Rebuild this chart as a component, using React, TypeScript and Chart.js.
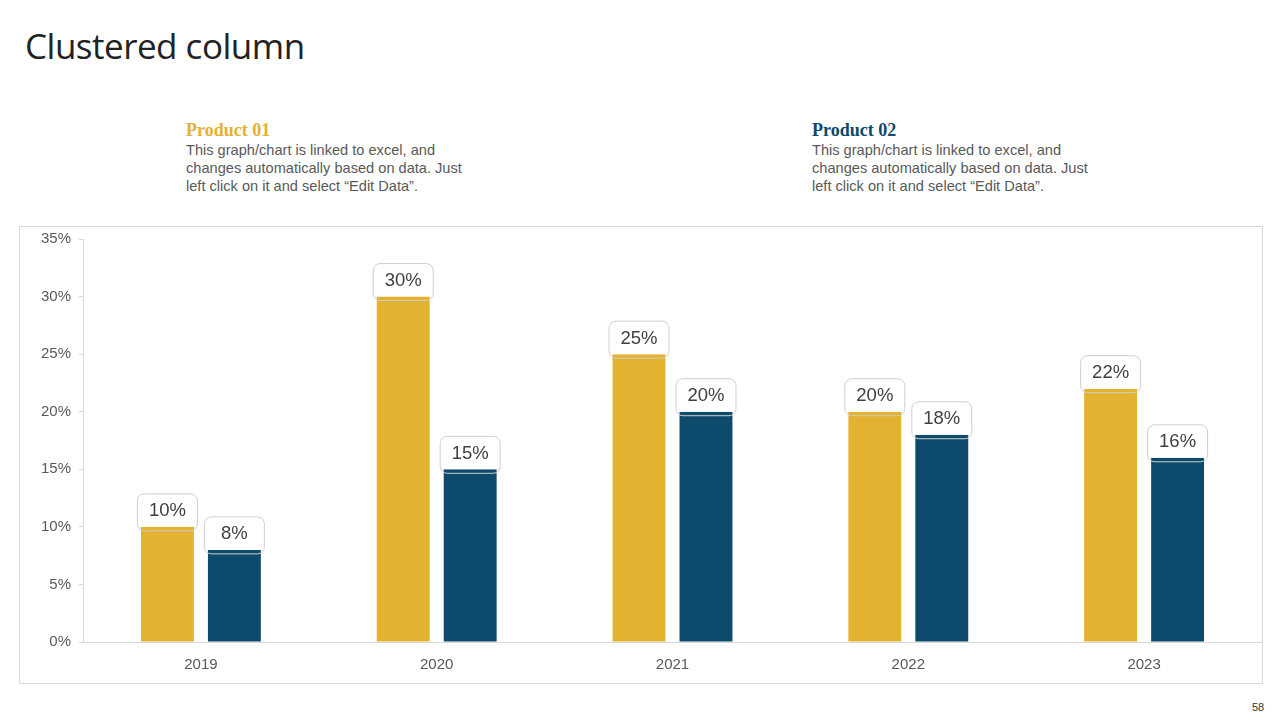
import React, { useEffect, useRef } from "react";
import { Chart, registerables } from "chart.js";

Chart.register(...registerables);

const years = ["2019", "2020", "2021", "2022", "2023"];
const product01 = [10, 30, 25, 20, 22];
const product02 = [8, 15, 20, 18, 16];
const seriesNames = ["Product 01", "Product 02"];
const yTicks = [0, 5, 10, 15, 20, 25, 30, 35];

const YELLOW = "#E3B231";
const BLUE = "#0E4A6B";

const labelPlugin = {
  id: "boxLabels",
  afterDatasetsDraw(chart: any) {
    const ctx = chart.ctx;
    ctx.save();
    chart.data.datasets.forEach((ds: any, di: number) => {
      const meta = chart.getDatasetMeta(di);
      meta.data.forEach((bar: any, i: number) => {
        const w = 60;
        const h = 37;
        const x = bar.x - w / 2;
        const bottom = bar.y + 4;
        const y = bottom - h;
        ctx.save();
        ctx.beginPath();
        ctx.rect(x - 2, y - 2, w + 4, bar.y - y + 2);
        ctx.clip();
        ctx.beginPath();
        ctx.roundRect(x + 0.5, y + 0.5, w - 1, h - 1, 7);
        ctx.fillStyle = "#ffffff";
        ctx.fill();
        ctx.restore();
        ctx.beginPath();
        ctx.roundRect(x, y, w, h, 7);
        ctx.strokeStyle = "#cfcfcf";
        ctx.lineWidth = 1;
        ctx.stroke();
        ctx.fillStyle = "#404040";
        ctx.font = "18.5px 'Liberation Sans', Arial, sans-serif";
        ctx.textAlign = "center";
        ctx.textBaseline = "middle";
        ctx.fillText(ds.data[i] + "%", bar.x, y + h / 2 - 1);
      });
    });
    ctx.restore();
  },
};

function ChartBox() {
  const ref = useRef<HTMLCanvasElement | null>(null);
  useEffect(() => {
    if (!ref.current) return;
    const chart = new Chart(ref.current, {
      type: "bar",
      data: {
        labels: years,
        datasets: [
          { label: seriesNames[0], data: product01, backgroundColor: YELLOW, categoryPercentage: 0.568, barPercentage: 0.79 },
          { label: seriesNames[1], data: product02, backgroundColor: BLUE, categoryPercentage: 0.568, barPercentage: 0.79 },
        ],
      },
      options: {
        animation: false,
        responsive: true,
        maintainAspectRatio: false,
        layout: { padding: 0 },
        plugins: { legend: { display: false }, tooltip: { enabled: false } },
        scales: {
          x: {
            grid: { display: false },
            border: { display: true, color: "#d9d9d9" },
            ticks: { color: "#595959", font: { size: 15, family: "'Liberation Sans', Arial, sans-serif" }, padding: 6 },
            afterFit: (s: any) => { s.height = 41; },
          },
          y: {
            min: 0,
            max: 35,
            afterBuildTicks: (s: any) => { s.ticks = yTicks.map((v) => ({ value: v })); },
            grid: { drawOnChartArea: false, drawTicks: true, tickLength: 4, color: "#d9d9d9" },
            border: { display: true, color: "#d9d9d9" },
            ticks: {
              color: "#595959",
              font: { size: 15, family: "'Liberation Sans', Arial, sans-serif" },
              padding: 8,
              callback: (v: any) => v + "%",
            },
            afterFit: (s: any) => { s.width = 63; s.paddingTop = 12; s.paddingBottom = 0; },
          },
        },
      },
      plugins: [labelPlugin],
    });
    return () => chart.destroy();
  }, []);
  return <canvas ref={ref} />;
}

export default function App() {
  const bodyStyle: React.CSSProperties = {
    fontFamily: "'Liberation Sans', Arial, sans-serif",
    fontSize: 14.6,
    color: "#595959",
    lineHeight: "18px",
  };
  return (
    <div style={{ position: "fixed", left: 0, top: 0, width: 1280, height: 720, background: "#fff", overflow: "hidden" }}>
      <div style={{ position: "absolute", left: 25, top: 22, fontFamily: "'Open Sans', sans-serif", fontSize: 35, color: "#222", lineHeight: "48px", letterSpacing: -0.5 }}>
        Clustered column
      </div>
      <div style={{ position: "absolute", left: 186, top: 120, width: 320 }}>
        <div style={{ fontFamily: "'Liberation Serif', serif", fontWeight: "bold", fontSize: 18, color: YELLOW, lineHeight: "21px" }}>{seriesNames[0]}</div>
        <div style={bodyStyle}>
          This graph/chart is linked to excel, and<br />changes automatically based on data. Just<br />left click on it and select “Edit Data”.
        </div>
      </div>
      <div style={{ position: "absolute", left: 812, top: 120, width: 320 }}>
        <div style={{ fontFamily: "'Liberation Serif', serif", fontWeight: "bold", fontSize: 18, color: BLUE, lineHeight: "21px" }}>{seriesNames[1]}</div>
        <div style={bodyStyle}>
          This graph/chart is linked to excel, and<br />changes automatically based on data. Just<br />left click on it and select “Edit Data”.
        </div>
      </div>
      <div style={{ position: "absolute", left: 19, top: 226, width: 1242, height: 456, border: "1px solid #d9d9d9" }}>
        <div style={{ position: "relative", width: 1242, height: 456 }}>
          <ChartBox />
        </div>
      </div>
      <div style={{ position: "absolute", left: 1252, top: 701, fontFamily: "'Liberation Sans', Arial, sans-serif", fontSize: 11, color: "#333" }}>58</div>
    </div>
  );
}
